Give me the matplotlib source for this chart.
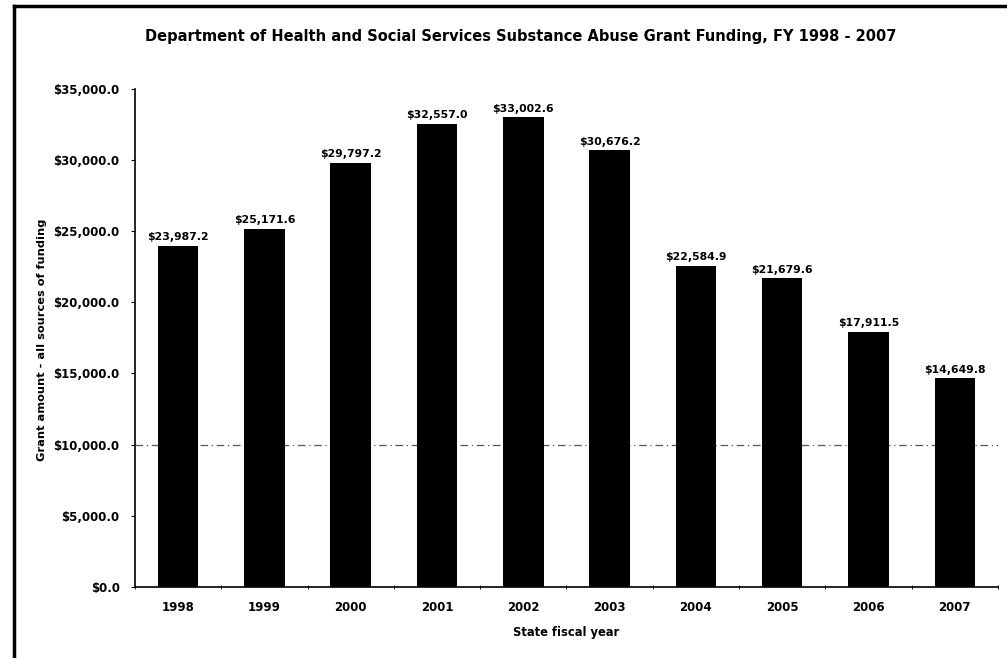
import matplotlib
matplotlib.use("Agg")
import matplotlib.pyplot as plt
from matplotlib.lines import Line2D
import numpy as np

years = ["1998", "1999", "2000", "2001", "2002", "2003", "2004", "2005", "2006", "2007"]
funding = [23987.2, 25171.6, 29797.2, 32557.0, 33002.6, 30676.2, 22584.9, 21679.6, 17911.5, 14649.8]
ytick_values = [0, 5000, 10000, 15000, 20000, 25000, 30000, 35000]

plt.rcParams['font.family'] = ['DejaVu Sans']

fig = plt.figure(figsize=(10.07, 6.58), dpi=100)
ax = fig.add_axes([0.134, 0.108, 0.857, 0.757])

x = np.arange(len(years))
ax.bar(x, funding, width=0.47, color='black', zorder=3)
ax.axhline(10000, color='#555555', lw=0.9, ls=(0, (6, 3, 1, 3)), zorder=1)

for xi, v in zip(x, funding):
    ax.text(xi, v + 250, f"${v:,.1f}", ha='center', va='bottom',
            fontsize=7.8, fontweight='bold')

ax.set_xlim(-0.5, len(years) - 0.5)
ax.set_ylim(0, 35000)
ax.set_yticks(ytick_values)
ax.set_yticklabels([f"${v:,.1f}" for v in ytick_values])
ax.set_xticks(x)
ax.set_xticklabels(years)
ax.set_xticks(np.arange(len(years) + 1) - 0.5, minor=True)
ax.tick_params(axis='x', which='major', length=0, pad=10, labelsize=8.5)
ax.tick_params(axis='x', which='minor', length=3, direction='inout')
ax.tick_params(axis='y', length=3, direction='out', pad=8, labelsize=8.5)
for lab in ax.get_xticklabels() + ax.get_yticklabels():
    lab.set_fontweight('bold')

ax.spines['top'].set_visible(False)
ax.spines['right'].set_visible(False)
ax.spines['left'].set_linewidth(1.2)
ax.spines['bottom'].set_linewidth(1.2)

ax.set_xlabel("State fiscal year", fontsize=8.3, fontweight='bold', labelpad=9)
fig.text(0.042, 0.483, "Grant amount - all sources of funding",
         rotation=90, ha='center', va='center', fontsize=8.2, fontweight='bold')

fig.text(0.517, 0.944, "Department of Health and Social Services Substance Abuse Grant Funding, FY 1998 - 2007",
         ha='center', va='center', fontsize=10.5, fontweight='bold')

# outer frame (top and left edges)
fig.add_artist(Line2D([0.014, 1.0], [0.991, 0.991], transform=fig.transFigure, color='black', lw=2.5))
fig.add_artist(Line2D([0.014, 0.014], [0.0, 0.991], transform=fig.transFigure, color='black', lw=2.5))

fig.savefig("out.png", dpi=100, facecolor='white')
